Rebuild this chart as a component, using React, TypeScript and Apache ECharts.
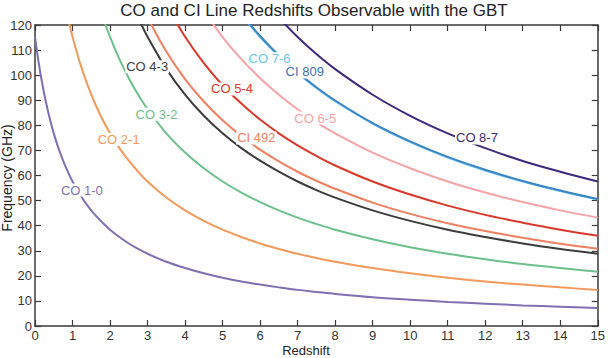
import React, { useEffect, useRef } from "react";
import * as echarts from "echarts";

// Redshift sample points shared by all curves (each curve uses the tail of this grid)
const redshift = [0, 0.1, 0.2, 0.3, 0.4, 0.5, 0.6, 0.7, 0.8, 0.9, 1, 1.2, 1.4, 1.6, 1.8, 2, 2.25, 2.5, 2.75, 3, 3.5, 4, 4.5, 5, 5.5, 6, 6.5, 7, 7.5, 8, 9, 10, 11, 12, 13, 14, 15];

const xTicks = [0, 15, 1];
const yTicks = [0, 120, 10];

// Observed frequency (GHz), aligned with the last N entries of `redshift`
const co10 = [115.3, 104.8, 96.1, 88.7, 82.3, 76.8, 72.0, 67.8, 64.0, 60.7, 57.6, 52.4, 48.0, 44.3, 41.2, 38.4, 35.5, 32.9, 30.7, 28.8, 25.6, 23.1, 21.0, 19.2, 17.7, 16.5, 15.4, 14.4, 13.6, 12.8, 11.5, 10.5, 9.6, 8.9, 8.2, 7.7, 7.2];
const co21 = [128.1, 121.3, 115.3, 104.8, 96.1, 88.7, 82.3, 76.8, 70.9, 65.9, 61.5, 57.6, 51.2, 46.1, 41.9, 38.4, 35.5, 32.9, 30.7, 28.8, 27.1, 25.6, 23.1, 21.0, 19.2, 17.7, 16.5, 15.4, 14.4];
const co32 = [133.0, 123.5, 115.3, 106.4, 98.8, 92.2, 86.5, 76.8, 69.2, 62.9, 57.6, 53.2, 49.4, 46.1, 43.2, 40.7, 38.4, 34.6, 31.4, 28.8, 26.6, 24.7, 23.1, 21.6];
const co43 = [131.7, 122.9, 115.3, 102.5, 92.2, 83.8, 76.8, 70.9, 65.9, 61.5, 57.6, 54.2, 51.2, 46.1, 41.9, 38.4, 35.5, 32.9, 30.7, 28.8];
const ci492 = [131.2, 123.0, 109.4, 98.4, 89.5, 82.0, 75.7, 70.3, 65.6, 61.5, 57.9, 54.7, 49.2, 44.7, 41.0, 37.9, 35.2, 32.8, 30.8];
const co54 = [128.1, 115.3, 104.8, 96.0, 88.7, 82.3, 76.8, 72.0, 67.8, 64.0, 57.6, 52.4, 48.0, 44.3, 41.2, 38.4, 36.0];
const co65 = [125.7, 115.2, 106.4, 98.8, 92.2, 86.4, 81.3, 76.8, 69.1, 62.9, 57.6, 53.2, 49.4, 46.1, 43.2];
const co76 = [124.1, 115.2, 107.6, 100.8, 94.9, 89.6, 80.7, 73.3, 67.2, 62.0, 57.6, 53.8, 50.4];
const ci809 = [124.5, 115.6, 107.9, 101.2, 95.2, 89.9, 80.9, 73.6, 67.4, 62.3, 57.8, 54.0, 50.6];
const co87 = [122.9, 115.2, 108.4, 102.4, 92.2, 83.8, 76.8, 70.9, 65.8, 61.5, 57.6];

const seriesNames = ["CO 1-0", "CO 2-1", "CO 3-2", "CO 4-3", "CI 492", "CO 5-4", "CO 6-5", "CO 7-6", "CI 809", "CO 8-7"];
const seriesValues = [co10, co21, co32, co43, ci492, co54, co65, co76, ci809, co87];

// Inline label anchor (redshift, frequency)
const labelZ = [1.25, 2.23, 3.24, 2.99, 5.9, 5.25, 7.47, 6.25, 7.19, 11.78];
const labelFreq = [54.2, 74.4, 84.4, 103.4, 75.0, 94.5, 82.9, 106.5, 101.3, 75.0];

const lineColors = ["#7f70b3", "#f4995c", "#6cc08b", "#3c3c3c", "#f0805f", "#d9382a", "#f5a3a6", "#6ec6ee", "#3a86c6", "#3b2a7c"];
const labelColors = ["#7f70b3", "#f4995c", "#6cc08b", "#3c3c3c", "#f0805f", "#d9382a", "#f5a3a6", "#6ec6ee", "#3e6fb4", "#3b2a7c"];

const FONT = "'Liberation Sans', Arial, sans-serif";
const AXIS_COLOR = "#3a3a3a";

export default function App() {
  const ref = useRef<HTMLDivElement>(null);

  useEffect(() => {
    if (!ref.current) return;
    const chart = echarts.init(ref.current, undefined, { renderer: "svg" });

    const axisCommon = {
      axisLine: { show: true, onZero: false, lineStyle: { color: AXIS_COLOR, width: 1.5 } },
      axisTick: { show: true, inside: true, length: 6, lineStyle: { color: AXIS_COLOR, width: 1.2 } },
      splitLine: { show: false },
    };

    const series = seriesNames.map((name, i) => {
      const vals = seriesValues[i];
      const zs = redshift.slice(redshift.length - vals.length);
      return {
        name,
        type: "line",
        xAxisIndex: 0,
        yAxisIndex: 0,
        data: zs.map((z, k) => [z, vals[k]]),
        showSymbol: false,
        symbol: "none",
        smooth: 0.35,
        clip: true,
        lineStyle: { color: lineColors[i], width: 2 },
        itemStyle: { color: lineColors[i] },
        z: 2,
        markPoint: {
          silent: true,
          symbol: "circle",
          symbolSize: 0,
          animation: false,
          z: 20,
          label: {
            show: true,
            position: "inside",
            formatter: name,
            color: labelColors[i],
            fontSize: 13,
            fontFamily: FONT,
            backgroundColor: "#ffffff",
            padding: [0, 1, 0, 1],
          },
          data: [{ coord: [labelZ[i], labelFreq[i]] }],
        },
      };
    });

    chart.setOption({
      animation: false,
      grid: { left: 35, right: 10, top: 25, bottom: 32, containLabel: false },
      xAxis: [
        {
          type: "value",
          position: "bottom",
          min: xTicks[0],
          max: xTicks[1],
          interval: xTicks[2],
          ...axisCommon,
          axisLabel: { show: true, margin: 3, fontSize: 13, color: "#333", fontFamily: FONT },
        },
        {
          type: "value",
          position: "top",
          min: xTicks[0],
          max: xTicks[1],
          interval: xTicks[2],
          ...axisCommon,
          axisLabel: { show: false },
        },
      ],
      yAxis: [
        {
          type: "value",
          position: "left",
          min: yTicks[0],
          max: yTicks[1],
          interval: yTicks[2],
          ...axisCommon,
          axisLabel: { show: true, margin: 3, fontSize: 13, color: "#333", fontFamily: FONT },
        },
        {
          type: "value",
          position: "right",
          min: yTicks[0],
          max: yTicks[1],
          interval: yTicks[2],
          ...axisCommon,
          axisLabel: { show: false },
        },
      ],
      series,
      graphic: [
        {
          type: "text",
          x: 314,
          y: 10,
          style: {
            text: "CO and CI Line Redshifts Observable with the GBT",
            font: `17px ${FONT}`,
            fill: "#222",
            align: "center",
            verticalAlign: "middle",
            textAlign: "center",
            textVerticalAlign: "middle",
          },
        },
        {
          type: "text",
          x: 306,
          y: 350,
          style: {
            text: "Redshift",
            font: `13px ${FONT}`,
            fill: "#222",
            align: "center",
            verticalAlign: "middle",
            textAlign: "center",
            textVerticalAlign: "middle",
          },
        },
        {
          type: "text",
          x: 7,
          y: 178,
          rotation: Math.PI / 2,
          style: {
            text: "Frequency (GHz)",
            font: `14px ${FONT}`,
            fill: "#222",
            align: "center",
            verticalAlign: "middle",
            textAlign: "center",
            textVerticalAlign: "middle",
          },
        },
      ],
    });

    return () => {
      chart.dispose();
    };
  }, []);

  return <div ref={ref} style={{ width: 608, height: 358, position: "absolute", left: 0, top: 0 }} />;
}
